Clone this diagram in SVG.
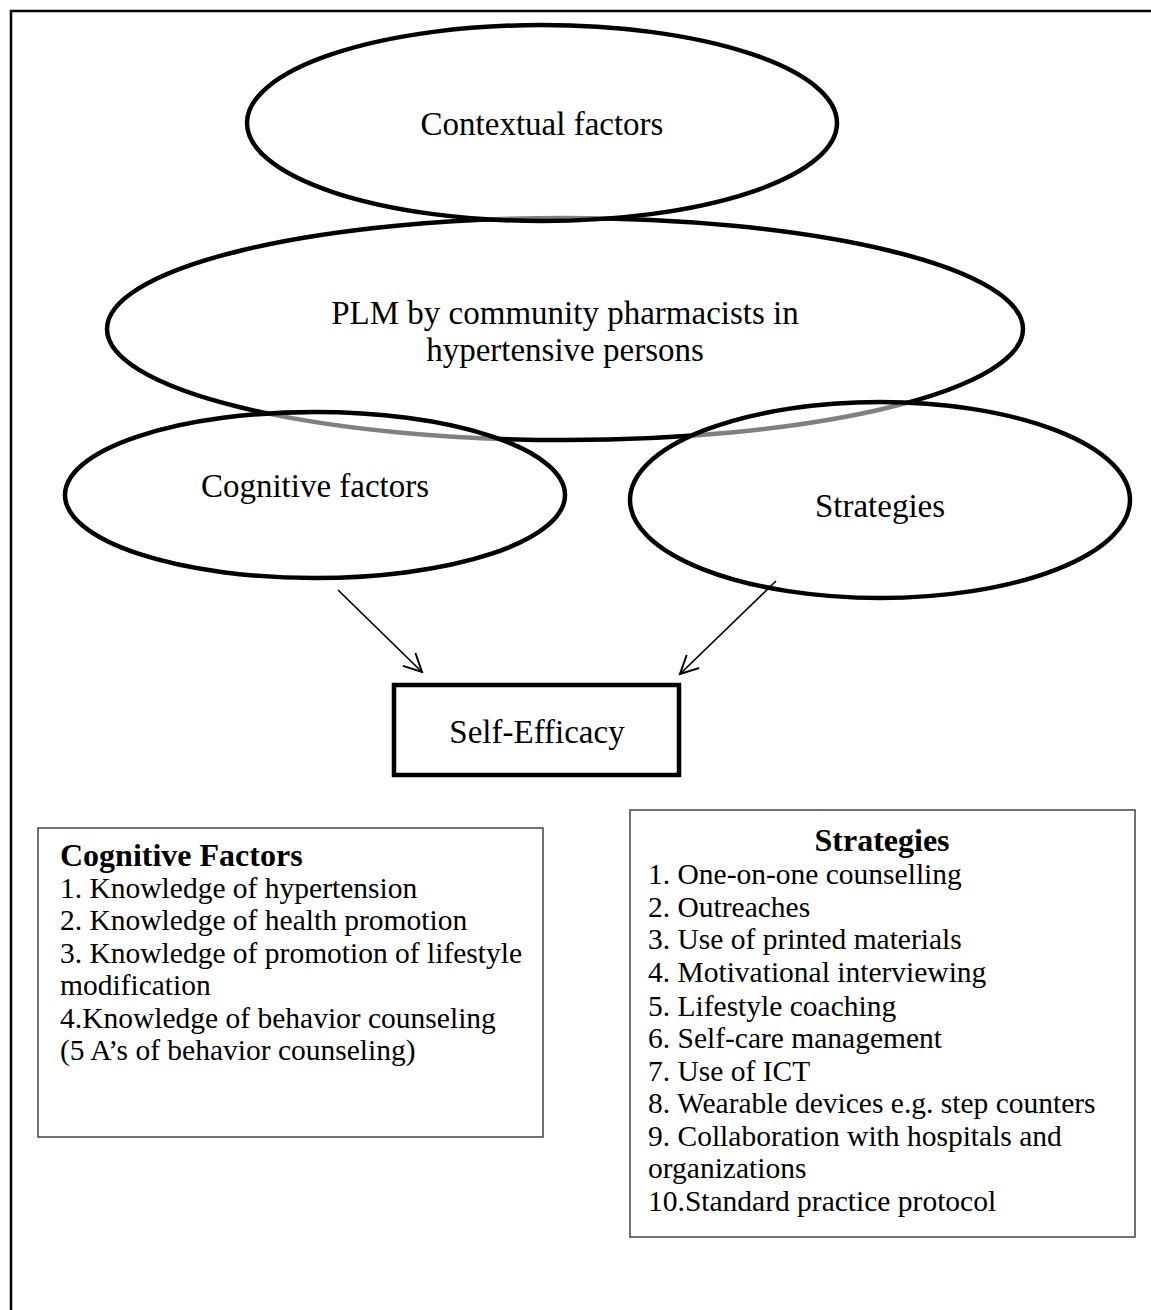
<svg xmlns="http://www.w3.org/2000/svg" width="1151" height="1310" viewBox="0 0 1151 1310">
<style>
.ell{fill:#fff;fill-opacity:0.5;stroke:#000;stroke-width:4.5}
.et{font-family:"Liberation Serif","DejaVu Serif",serif;font-size:33px;fill:#000;text-anchor:middle}
.bt{font-family:"Liberation Serif","Times New Roman",serif;font-size:29.5px;fill:#000}
.bb{font-weight:bold;font-size:32px}
.conn{stroke:#000;stroke-width:1.7;fill:none}
.box{fill:#fff;stroke:#444;stroke-width:1.5}
</style>
<defs>
<marker id="arr" viewBox="0 0 24 24" refX="22" refY="12" markerWidth="24" markerHeight="24" markerUnits="userSpaceOnUse" orient="auto">
<path d="M4,3 L22,12 L4,21" fill="none" stroke="#000" stroke-width="2"/>
</marker>
</defs>
<rect width="1151" height="1310" fill="#fff"/>
<path d="M11,1310 V11 H1151" fill="none" stroke="#000" stroke-width="2.5"/>
<g id="plm">
<ellipse class="ell" cx="565" cy="329" rx="458" ry="111"/>
<text class="et" x="565" y="324">PLM by community pharmacists in</text>
<text class="et" x="565" y="361">hypertensive persons</text>
</g>
<g id="contextual">
<ellipse class="ell" cx="542" cy="123" rx="295" ry="98"/>
<text class="et" x="542" y="135">Contextual factors</text>
</g>
<g id="cognitive">
<ellipse class="ell" cx="315" cy="495" rx="250" ry="83"/>
<text class="et" x="315" y="497">Cognitive factors</text>
</g>
<g id="strategies">
<ellipse class="ell" cx="880" cy="500" rx="250" ry="98"/>
<text class="et" x="880" y="517">Strategies</text>
</g>
<g id="connectors">
<line class="conn" x1="338" y1="590" x2="422" y2="672" marker-end="url(#arr)"/>
<line class="conn" x1="776" y1="581" x2="680" y2="674" marker-end="url(#arr)"/>
</g>
<g id="selfefficacy">
<rect x="394" y="685" width="285" height="90" fill="#fff" stroke="#000" stroke-width="4.5"/>
<text class="et" x="537" y="743">Self-Efficacy</text>
</g>
<g id="cognitive-box">
<rect class="box" x="38" y="828" width="505" height="309"/>
<text class="bt bb" x="60" y="866">Cognitive Factors</text>
<text class="bt" x="60" y="898">1. Knowledge of hypertension</text>
<text class="bt" x="60" y="930">2. Knowledge of health promotion</text>
<text class="bt" x="60" y="963">3. Knowledge of promotion of lifestyle</text>
<text class="bt" x="60" y="995">modification</text>
<text class="bt" x="60" y="1028">4.Knowledge of behavior counseling</text>
<text class="bt" x="60" y="1060">(5 A’s of behavior counseling)</text>
</g>
<g id="strategies-box">
<rect class="box" x="630" y="810" width="505" height="427"/>
<text class="bt bb" x="882" y="851" text-anchor="middle">Strategies</text>
<text class="bt" x="648" y="884">1. One-on-one counselling</text>
<text class="bt" x="648" y="917">2. Outreaches</text>
<text class="bt" x="648" y="949">3. Use of printed materials</text>
<text class="bt" x="648" y="982">4. Motivational interviewing</text>
<text class="bt" x="648" y="1016">5. Lifestyle coaching</text>
<text class="bt" x="648" y="1048">6. Self-care management</text>
<text class="bt" x="648" y="1081">7. Use of ICT</text>
<text class="bt" x="648" y="1113">8. Wearable devices e.g. step counters</text>
<text class="bt" x="648" y="1146">9. Collaboration with hospitals and</text>
<text class="bt" x="648" y="1178">organizations</text>
<text class="bt" x="648" y="1211">10.Standard practice protocol</text>
</g>
</svg>
